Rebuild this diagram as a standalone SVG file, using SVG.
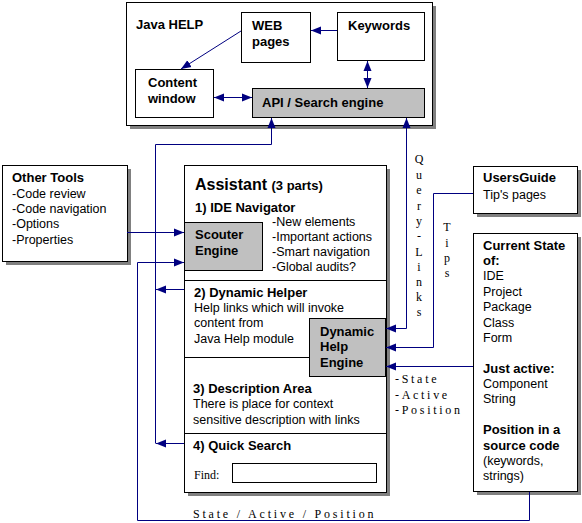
<svg xmlns="http://www.w3.org/2000/svg" width="582" height="523" viewBox="0 0 582 523">
<style>
.box{fill:#fff;stroke:#000;stroke-width:1}
.gbox{fill:#c0c0c0;stroke:#000;stroke-width:1}
.sh{fill:#808080}
.ln{fill:none;stroke:#000080;stroke-width:1}
.b{font-family:"Liberation Sans",Arial,sans-serif;font-weight:bold;font-size:13px;fill:#000}
.r{font-family:"Liberation Sans",Arial,sans-serif;font-size:12.5px;fill:#000}
.s{font-family:"Liberation Serif","Times New Roman",serif;font-size:12px;fill:#000}
</style>
<defs>
<marker id="ah" markerUnits="userSpaceOnUse" markerWidth="10" markerHeight="10" viewBox="0 0 10 10" refX="10" refY="5" orient="auto-start-reverse">
<path d="M0,1 L10,5 L0,9 z" fill="#000080"/>
</marker>
</defs>
<rect width="582" height="523" fill="#fff"/>

<g id="javahelp">
<rect class="sh" x="130" y="6" width="306" height="123"/>
<rect class="box" x="126.5" y="2.5" width="306" height="123"/>
<text class="b" x="136" y="29">Java HELP</text>
</g>
<g id="webpages">
<rect class="box" x="241.5" y="12.5" width="69" height="50"/>
<text class="b" x="252" y="30">WEB</text>
<text class="b" x="252" y="46">pages</text>
</g>
<g id="keywords">
<rect class="box" x="337.5" y="12.5" width="87" height="48"/>
<text class="b" x="348" y="30">Keywords</text>
</g>
<g id="contentwindow">
<rect class="box" x="135.5" y="69.5" width="78" height="48"/>
<text class="b" x="148" y="87">Content</text>
<text class="b" x="148" y="103">window</text>
</g>
<g id="api">
<rect class="gbox" x="252.5" y="88.5" width="172" height="29"/>
<text class="b" x="262" y="107">API / Search engine</text>
</g>

<g id="othertools">
<rect class="sh" x="6" y="169" width="125" height="96"/>
<rect class="box" x="2.5" y="165.5" width="125" height="96"/>
<text class="b" x="12" y="182">Other Tools</text>
<text class="r" x="12" y="198">-Code review</text>
<text class="r" x="12" y="213">-Code navigation</text>
<text class="r" x="12" y="228">-Options</text>
<text class="r" x="12" y="244">-Properties</text>
</g>

<g id="assistant">
<rect class="sh" x="188" y="169" width="202" height="327"/>
<rect class="box" x="184.5" y="165.5" width="202" height="327"/>
<line x1="184" y1="280.5" x2="386" y2="280.5" stroke="#000"/>
<line x1="184" y1="357.5" x2="386" y2="357.5" stroke="#000"/>
<line x1="184" y1="433.5" x2="386" y2="433.5" stroke="#000"/>
<text class="b" x="195" y="190" style="font-size:16px">Assistant <tspan style="font-size:13px">(3 parts)</tspan></text>
<text class="b" x="195" y="212">1) IDE Navigator</text>
<text class="r" x="272" y="226">-New elements</text>
<text class="r" x="272" y="241">-Important actions</text>
<text class="r" x="272" y="256">-Smart navigation</text>
<text class="r" x="272" y="271">-Global audits?</text>
<text class="b" x="194" y="297">2) Dynamic Helper</text>
<text class="r" x="194" y="312">Help links which will invoke</text>
<text class="r" x="194" y="327">content from</text>
<text class="r" x="194" y="343">Java Help module</text>
<text class="b" x="193" y="393">3) Description Area</text>
<text class="r" x="193" y="408">There is place for context</text>
<text class="r" x="193" y="424">sensitive description with links</text>
<text class="b" x="193" y="450">4) Quick Search</text>
<text class="s" x="194" y="479">Find:</text>
<rect class="box" x="232.5" y="463.5" width="144" height="19"/>
</g>
<g id="scouter">
<rect class="gbox" x="184.5" y="222.5" width="78" height="48"/>
<text class="b" x="195" y="239">Scouter</text>
<text class="b" x="195" y="255">Engine</text>
</g>
<g id="dynamichelp">
<rect class="gbox" x="309.5" y="318.5" width="76" height="58"/>
<text class="b" x="320" y="336">Dynamic</text>
<text class="b" x="320" y="351">Help</text>
<text class="b" x="320" y="367">Engine</text>
</g>

<g id="usersguide">
<rect class="sh" x="477" y="170" width="104" height="47"/>
<rect class="box" x="473.5" y="166.5" width="104" height="47"/>
<text class="b" x="483" y="182">UsersGuide</text>
<text class="r" x="483" y="199">Tip's pages</text>
</g>

<g id="currentstate">
<rect class="sh" x="477" y="237" width="104" height="258"/>
<rect class="box" x="473.5" y="233.5" width="104" height="258"/>
<text class="b" x="483" y="250">Current State</text>
<text class="b" x="483" y="265">of:</text>
<text class="r" x="483" y="280">IDE</text>
<text class="r" x="483" y="296">Project</text>
<text class="r" x="483" y="311">Package</text>
<text class="r" x="483" y="327">Class</text>
<text class="r" x="483" y="342">Form</text>
<text class="b" x="483" y="373">Just active:</text>
<text class="r" x="483" y="388">Component</text>
<text class="r" x="483" y="403">String</text>
<text class="b" x="483" y="434">Position in a</text>
<text class="b" x="483" y="450">source code</text>
<text class="r" x="483" y="465">(keywords,</text>
<text class="r" x="483" y="480">strings)</text>
</g>

<g id="connectors">
<line class="ln" x1="337" y1="30.5" x2="311" y2="30.5" marker-end="url(#ah)"/>
<line class="ln" x1="241" y1="31" x2="181" y2="69" marker-end="url(#ah)"/>
<line class="ln" x1="367.5" y1="61" x2="367.5" y2="88" marker-start="url(#ah)" marker-end="url(#ah)"/>
<line class="ln" x1="214" y1="97.5" x2="252" y2="97.5" marker-start="url(#ah)" marker-end="url(#ah)"/>
<path class="ln" d="M155.5,443.5 V144.5 H271.5 V118" marker-end="url(#ah)"/>
<line class="ln" x1="184" y1="289.5" x2="156" y2="289.5" marker-end="url(#ah)"/>
<line class="ln" x1="184" y1="443.5" x2="156" y2="443.5" marker-end="url(#ah)"/>
<path class="ln" d="M386,328.5 H406.5 V118" marker-start="url(#ah)" marker-end="url(#ah)"/>
<path class="ln" d="M473,193.5 H433.5 V347.5 H386" marker-end="url(#ah)"/>
<line class="ln" x1="473" y1="366.5" x2="386" y2="366.5" marker-end="url(#ah)"/>
<path class="ln" d="M529.5,492 V520.5 H137.5 V262.5 H184" marker-end="url(#ah)"/>
<line class="ln" x1="127" y1="232.5" x2="184" y2="232.5" marker-end="url(#ah)"/>
<g class="s" text-anchor="middle">
<text x="419" y="163">Q</text><text x="419" y="179">u</text><text x="419" y="194">e</text><text x="419" y="210">r</text><text x="419" y="225">y</text><text x="419" y="240">-</text><text x="419" y="256">L</text><text x="419" y="271">i</text><text x="419" y="286">n</text><text x="419" y="301">k</text><text x="419" y="316">s</text>
<text x="447" y="231">T</text><text x="447" y="247">i</text><text x="447" y="262">p</text><text x="447" y="277">s</text>
</g>
<text class="s" x="395" y="383" letter-spacing="2.7">-State</text>
<text class="s" x="395" y="399" letter-spacing="2.7">-Active</text>
<text class="s" x="395" y="414" letter-spacing="2.7">-Position</text>
<text class="s" x="193" y="518" letter-spacing="2.8">State / Active / Position</text>
</g>
</svg>
